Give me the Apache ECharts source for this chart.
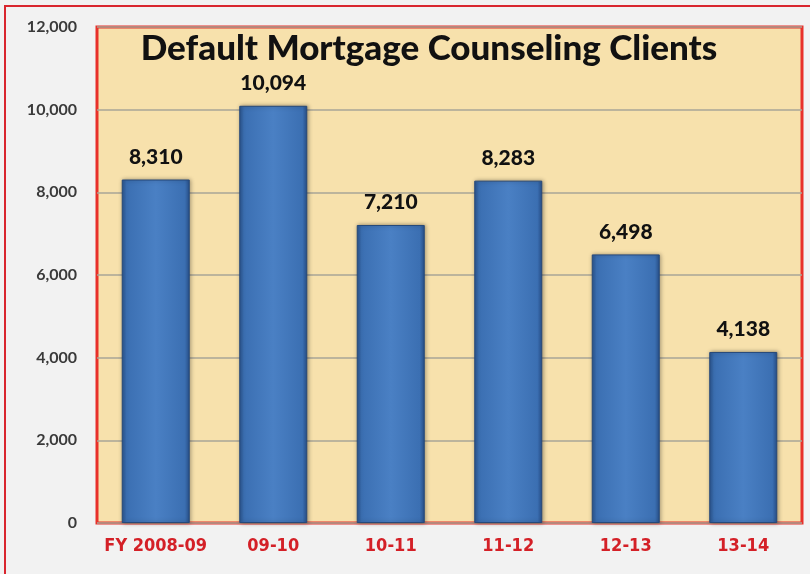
<!DOCTYPE html>
<html>
<head>
<meta charset="utf-8">
<script src="https://cdn.jsdelivr.net/npm/echarts@6/dist/echarts.min.js"></script>
<style>
  html, body { margin: 0; padding: 0; background: #f2f2f2; }
  #chart { width: 810px; height: 574px; }
</style>
</head>
<body>
<div id="chart"></div>
<script>
// fiscal years and client counts
const years = ['FY 2008-09', '09-10', '10-11', '11-12', '12-13', '13-14']
const clients = [8310, 10094, 7210, 8283, 6498, 4138]
const yTicks = [0, 2000, 4000, 6000, 8000, 10000, 12000]

const chart = echarts.init(document.getElementById('chart'))

const barFill = new echarts.graphic.LinearGradient(0, 0, 1, 0, [
  { offset: 0, color: '#2b5690' },
  { offset: 0.07, color: '#3b6fb2' },
  { offset: 0.5, color: '#4a80c4' },
  { offset: 0.93, color: '#3b6fb2' },
  { offset: 1, color: '#28508a' },
])

chart.setOption({
  backgroundColor: '#f2f2f2',
  animation: false,
  title: {
    text: 'Default Mortgage Counseling Clients',
    left: 424,
    top: 26,
    textAlign: 'center',
    textStyle: { fontFamily: 'Lato', fontWeight: 900, fontSize: 35, color: '#111' },
  },
  graphic: [
    {
      type: 'rect',
      z: -10,
      shape: { x: 5, y: 6, width: 820, height: 620 },
      style: { fill: 'none', stroke: '#d9262e', lineWidth: 2 },
    },
  ],
  grid: {
    left: 97, right: 8, top: 27, bottom: 51,
    show: true,
    backgroundColor: '#f7e1ac',
    borderColor: '#e8302a',
    borderWidth: 3,
  },
  xAxis: {
    type: 'category',
    data: years,
    axisLine: { show: false },
    axisTick: { show: false },
    axisLabel: {
      interval: 0,
      margin: 14,
      fontFamily: 'DejaVu Sans Condensed',
      fontWeight: 'bold',
      fontSize: 18,
      color: '#d42027',
    },
  },
  yAxis: {
    type: 'value',
    min: yTicks[0],
    max: yTicks[yTicks.length - 1],
    interval: 2000,
    axisLine: { show: false },
    axisTick: { show: false },
    splitLine: { lineStyle: { color: '#a9a497', width: 1.5 } },
    axisLabel: {
      margin: 20,
      fontFamily: 'Lato',
      fontWeight: 'bold',
      fontSize: 16,
      color: '#3a3a3a',
      formatter: (v) => v.toLocaleString('en-US'),
    },
  },
  series: [
    {
      type: 'bar',
      data: clients,
      barWidth: 68,
      itemStyle: {
        color: barFill,
        borderColor: '#26497a',
        borderWidth: 1,
        shadowBlur: 4,
        shadowColor: 'rgba(0,0,0,0.35)',
        shadowOffsetX: 1,
      },
      label: {
        show: true,
        position: 'top',
        distance: 12,
        fontFamily: 'Lato',
        fontWeight: 900,
        fontSize: 21,
        color: '#111',
        formatter: (p) => p.value.toLocaleString('en-US'),
      },
    },
  ],
})
</script>
</body>
</html>
